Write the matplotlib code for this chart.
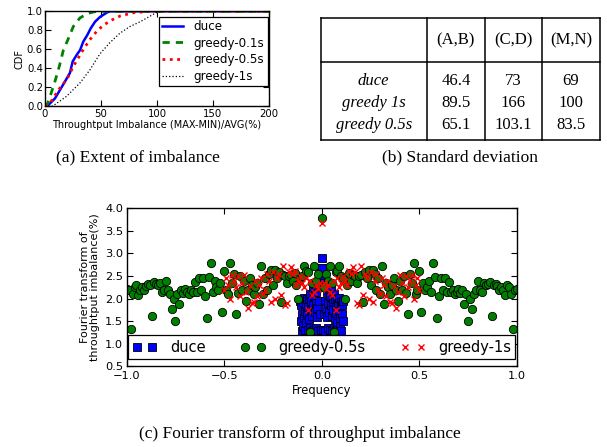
import numpy as np
import matplotlib
matplotlib.use('Agg')
import matplotlib.pyplot as plt

# ---------------- (a) CDF data ----------------
duce_x = [0, 3, 8.9, 13.4, 17.9, 22.3, 24.7, 28.3, 31.3, 34.2, 37.8, 40.8, 44.7, 49.1, 55, 58, 200]
duce_y = [0, 0.01, 0.08, 0.17, 0.26, 0.35, 0.47, 0.54, 0.59, 0.68, 0.75, 0.82, 0.89, 0.94, 0.985, 1.0, 1.0]
g01_x = [0, 1.5, 4.5, 8.9, 12.8, 16.4, 20.8, 25.3, 31.2, 38.6, 46, 200]
g01_y = [0, 0, 0.10, 0.26, 0.42, 0.59, 0.71, 0.84, 0.93, 0.98, 1.0, 1.0]
g05_x = [0, 4.5, 12, 19.5, 25.4, 32.8, 40, 47, 53, 60, 67, 79, 94, 200]
g05_y = [0, 0.03, 0.17, 0.28, 0.42, 0.57, 0.70, 0.80, 0.86, 0.91, 0.95, 0.985, 1.0, 1.0]
g1_x = [0, 7, 19, 31, 40, 49, 58, 67, 76, 85, 94, 100, 105, 200]
g1_y = [0, 0, 0.10, 0.24, 0.38, 0.55, 0.67, 0.77, 0.84, 0.89, 0.95, 0.99, 1.0, 1.0]

# ---------------- (b) table data ----------------
tab_cols = ['(A,B)', '(C,D)', '(M,N)']
tab_rows = ['duce', 'greedy 1s', 'greedy 0.5s']
tab_vals = [['46.4', '73', '69'],
            ['89.5', '166', '100'],
            ['65.1', '103.1', '83.5']]

# ---------------- (c) Fourier data (positive half; spectrum is symmetric) ----------------
g05_dc = 3.78
g05_half = [2.25, 2.55, 2.40, 2.72, 2.35, 1.25, 2.58, 2.62, 2.72, 2.50,
            2.45, 1.98, 2.30, 2.56, 2.40, 2.52, 2.50, 2.35, 2.49, 2.52,
            1.93, 2.58, 2.45, 2.63, 2.30, 2.63, 2.55, 2.20, 2.45, 2.10,
            2.72, 1.87, 2.35, 2.25, 2.10, 2.30, 2.45, 2.20, 1.95, 2.40,
            2.18, 2.50, 2.12, 1.65, 2.55, 2.35, 2.78, 2.10, 2.20, 2.62,
            1.71, 2.35, 2.20, 2.25, 2.40, 2.15, 2.78, 2.48, 1.57, 2.05,
            2.46, 2.20, 2.45, 2.15, 2.36, 2.15, 2.20, 2.10, 2.15, 2.22,
            2.12, 2.20, 1.88, 2.10, 1.50, 2.00, 1.78, 2.10, 2.20, 2.39,
            2.19, 2.15, 2.35, 2.30, 2.33, 2.36, 1.62, 2.30, 2.32, 2.28,
            2.20, 2.25, 2.18, 2.08, 2.29, 2.25, 2.10, 1.33, 2.20, 2.22]
g1_dc = 3.68
g1_half = [2.35, 2.22, 2.30, 2.15, 2.08, 2.40, 1.75, 2.45, 2.25, 2.35,
           2.50, 2.40, 2.30, 2.62, 2.55, 2.71, 2.60, 1.90, 1.85, 2.72,
           2.08, 2.55, 2.45, 2.00, 2.60, 1.92, 2.40, 2.55, 2.20, 2.10,
           2.45, 2.30, 2.05, 2.40, 1.92, 1.90, 2.28, 1.80, 2.15, 2.52,
           2.35, 2.05, 2.50, 2.25, 2.38, 2.52, 2.00, 2.30, 2.45, 2.20]
duce_dc = 2.90
duce_half = [2.68, 1.30, 2.50, 1.65, 2.35, 1.95, 1.28, 2.25, 1.80, 1.60,
             2.15, 1.35, 1.90, 2.20, 1.70, 1.30, 2.05, 1.85, 2.18, 1.62,
             1.28, 1.95, 1.75, 2.10, 1.35, 1.55, 2.00, 1.82, 1.30, 1.68,
             1.98, 1.45, 1.88, 1.30, 1.72, 2.02, 1.58, 1.40, 1.92, 1.28,
             1.65, 1.85, 1.50, 1.95]
g05_step = 0.01
g1_step = 0.01
duce_step = 0.0025


def spectrum(dc, half, step):
    n = len(half)
    pos = np.arange(1, n + 1) * step
    f = np.concatenate([-pos[::-1], [0.0], pos])
    v = np.concatenate([np.array(half)[::-1], [dc], np.array(half)])
    return f, v


W, H = 607, 447
fig = plt.figure(figsize=(W / 100, H / 100), dpi=100)
fig.patch.set_facecolor('white')


def style_axes(ax, size, xpad, ypad):
    ax.tick_params(direction='in', top=True, right=True, labelsize=size,
                   length=4, width=0.8)
    ax.tick_params(axis='x', pad=xpad)
    ax.tick_params(axis='y', pad=ypad)
    for s in ax.spines.values():
        s.set_linewidth(1.0)


# ---------------- (a) ----------------
ax1 = fig.add_axes([45 / W, 1 - 106 / H, 224 / W, 94.7 / H])
ax1.plot(duce_x, duce_y, color='blue', lw=1.8, label='duce')
ax1.plot(g01_x, g01_y, color='green', lw=2, dashes=(2.6, 2.2), label='greedy-0.1s')
ax1.plot(g05_x, g05_y, color='red', lw=2, linestyle=':', label='greedy-0.5s')
ax1.plot(g1_x, g1_y, color='black', lw=0.9, linestyle=':', label='greedy-1s')
ax1.set_xlim(0, 200)
ax1.set_ylim(0, 1.0)
ax1.set_xticks([0, 50, 100, 150, 200])
ax1.set_yticks([0.0, 0.2, 0.4, 0.6, 0.8, 1.0])
ax1.set_yticklabels(['0.0', '0.2', '0.4', '0.6', '0.8', '1.0'])
style_axes(ax1, 7.3, 2.0, 1.5)
ax1.set_xlabel('Throughtput Imbalance (MAX-MIN)/AVG(%)', fontsize=7.0, labelpad=1.0)
ax1.set_ylabel('CDF', fontsize=7.0, labelpad=2)
leg1 = ax1.legend(loc='upper right', bbox_to_anchor=(0.995, 0.945), borderaxespad=0,
                  fontsize=8.6, fancybox=False, framealpha=1, handlelength=1.7,
                  labelspacing=0.3, borderpad=0.3, handletextpad=0.9)
leg1.get_frame().set_edgecolor('black')
leg1.get_frame().set_linewidth(0.9)

# ---------------- (b) table ----------------
axt = fig.add_axes([0, 0, 1, 1], zorder=-1)
axt.set_xlim(0, W)
axt.set_ylim(H, 0)
axt.axis('off')
xs = [320.7, 426.7, 485, 541.7, 600]
ytop, ymid, ybot = 18.3, 61.7, 140
for x in xs:
    axt.plot([x, x], [ytop, ybot], color='black', lw=1.1)
for y in (ytop, ymid, ybot):
    axt.plot([xs[0], xs[-1]], [y, y], color='black', lw=1.1)
serif = ['Liberation Serif', 'DejaVu Serif']
for j, c in enumerate(tab_cols):
    axt.text((xs[j + 1] + xs[j + 2]) / 2, 40, c, ha='center', va='center',
             fontsize=12, family=serif)
row_y = [81, 103, 125]
for i, r in enumerate(tab_rows):
    axt.text((xs[0] + xs[1]) / 2, row_y[i], r, ha='center', va='center',
             fontsize=12, family=serif, style='italic')
    for j in range(3):
        axt.text((xs[j + 1] + xs[j + 2]) / 2, row_y[i], tab_vals[i][j],
                 ha='center', va='center', fontsize=12, family=serif)

# captions
axt.text(138, 157, '(a) Extent of imbalance', ha='center', va='center', fontsize=12.5, family=serif)
axt.text(460, 157, '(b) Standard deviation', ha='center', va='center', fontsize=12.5, family=serif)
axt.text(300, 434, '(c) Fourier transform of throughput imbalance', ha='center', va='center',
         fontsize=12.5, family=serif)

# ---------------- (c) ----------------
ax2 = fig.add_axes([126.7 / W, 1 - 366.3 / H, 390.3 / W, 158 / H])
fd, vd = spectrum(duce_dc, duce_half, duce_step)
fg, vg = spectrum(g05_dc, g05_half, g05_step)
fr, vr = spectrum(g1_dc, g1_half, g1_step)
ax2.plot(fd, vd, 's', ms=5.3, mfc='blue', mec='black', mew=0.6, label='duce')
ax2.plot(fg, vg, 'o', ms=6.0, mfc='green', mec='black', mew=0.6, label='greedy-0.5s')
ax2.plot(fr, vr, 'x', ms=5.0, mew=1.0, color='red', label='greedy-1s')
ax2.set_xlim(-1.0, 1.0)
ax2.set_ylim(0.5, 4.0)
ax2.set_xticks([-1.0, -0.5, 0.0, 0.5, 1.0])
ax2.set_xticklabels(['\u22121.0', '\u22120.5', '0.0', '0.5', '1.0'])
ax2.set_yticks(np.arange(0.5, 4.01, 0.5))
ax2.set_yticklabels(['%.1f' % v for v in np.arange(0.5, 4.01, 0.5)])
style_axes(ax2, 8.2, 3.5, 2.5)
ax2.set_xlabel('Frequency', fontsize=8.3, labelpad=2)
ax2.set_ylabel('Fourier transform of\nthroughtput imbalance(%)', fontsize=8.0, labelpad=4,
               linespacing=1.0)
leg2 = ax2.legend(loc='lower center', ncol=3, numpoints=2, mode='expand',
                  bbox_to_anchor=(0.004, 0.046, 0.992, 0.165), borderaxespad=0,
                  fontsize=10.5, fancybox=False, framealpha=1, handlelength=1.65,
                  borderpad=0.3, columnspacing=1.0, handletextpad=0.9)
leg2.get_frame().set_edgecolor('black')
leg2.get_frame().set_linewidth(0.9)

fig.savefig('out.png', dpi=100, facecolor='white')
